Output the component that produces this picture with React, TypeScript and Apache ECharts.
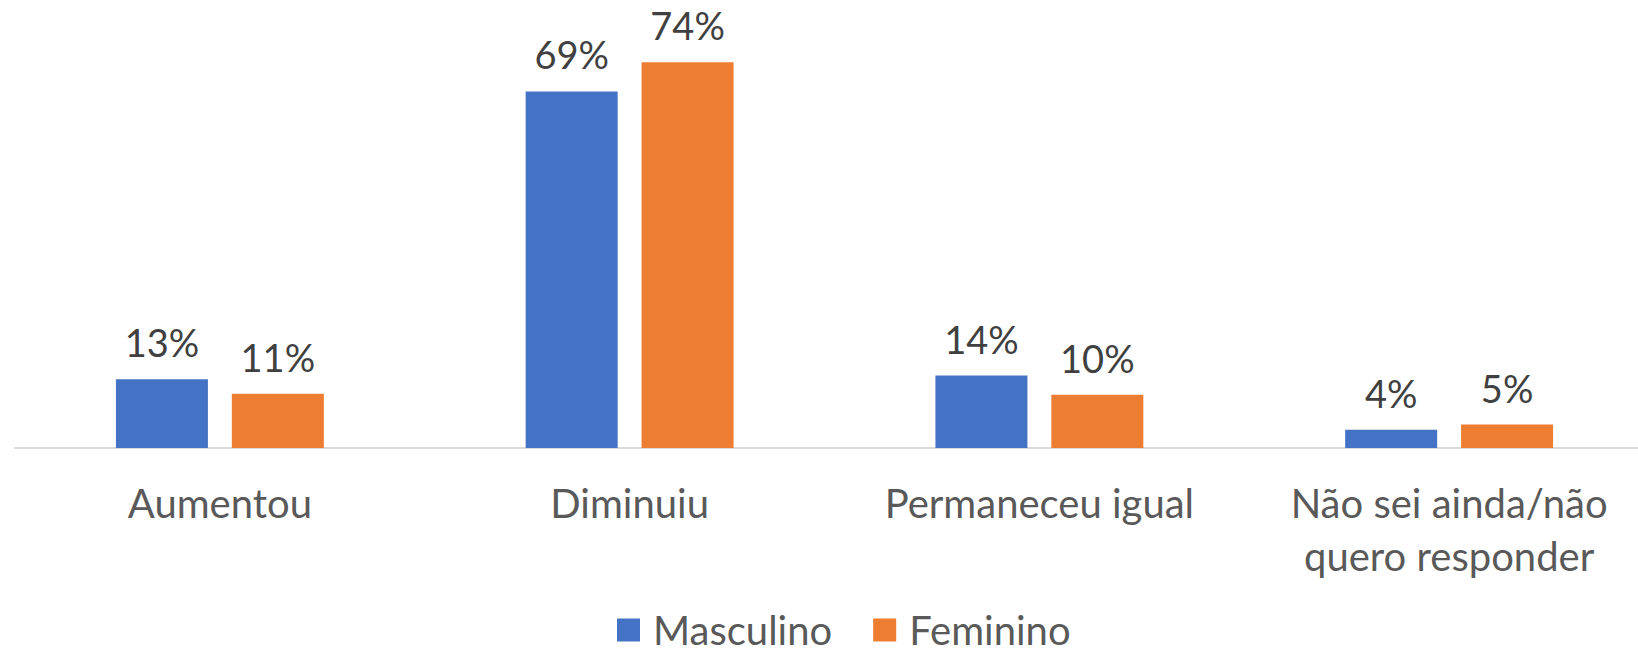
import React, { useEffect, useRef } from "react";
import * as echarts from "echarts";

const categories = ["Aumentou", "Diminuiu", "Permaneceu igual", "Não sei ainda/não\nquero responder"];
const seriesNames = ["Masculino", "Feminino"];
// bar heights (percent)
const masculino = [13.2, 68.4, 13.9, 3.5];
const feminino = [10.4, 74, 10.2, 4.5];
// data labels as printed on the picture
const masculinoLabels = ["13%", "69%", "14%", "4%"];
const femininoLabels = ["11%", "74%", "10%", "5%"];

export default function App() {
  const ref = useRef<HTMLDivElement>(null);
  useEffect(() => {
    if (!ref.current) return;
    const chart = echarts.init(ref.current, undefined, { renderer: "svg" });
    const font = "Lato";
    const labelStyle = (labels: string[]) => ({
      show: true,
      position: "top" as const,
      distance: 14,
      formatter: (p: any) => labels[p.dataIndex],
      fontFamily: font,
      fontSize: 38,
      lineHeight: 46,
      color: "#404040",
    });
    chart.setOption({
      animation: false,
      backgroundColor: "#ffffff",
      grid: { left: 15, right: 6, top: 31, bottom: 200, containLabel: false },
      legend: {
        left: 617,
        top: 610,
        padding: 0,
        itemWidth: 23,
        itemHeight: 23,
        itemGap: 41,
        icon: "rect",
        textStyle: { fontFamily: font, fontSize: 40, lineHeight: 23, color: "#595959", padding: [0, 0, 0, 8] },
        data: seriesNames,
      },
      xAxis: {
        type: "category",
        data: categories,
        axisLine: { show: true, lineStyle: { color: "#D9D9D9", width: 2 } },
        axisTick: { show: false },
        axisLabel: {
          interval: 0,
          margin: 28,
          fontFamily: font,
          fontSize: 40,
          lineHeight: 53,
          color: "#595959",
        },
      },
      yAxis: {
        type: "value",
        min: 0,
        max: 80,
        show: false,
        splitLine: { show: false },
      },
      series: [
        {
          name: seriesNames[0],
          type: "bar",
          data: masculino,
          barWidth: 92,
          barGap: "26%",
          itemStyle: { color: "#4472C4" },
          label: labelStyle(masculinoLabels),
        },
        {
          name: seriesNames[1],
          type: "bar",
          data: feminino,
          barWidth: 92,
          barGap: "26%",
          itemStyle: { color: "#ED7D31" },
          label: labelStyle(femininoLabels),
        },
      ],
    });
    return () => chart.dispose();
  }, []);
  return (
    <div style={{ position: "fixed", left: 0, top: 0, width: 1638, height: 648, overflow: "hidden", background: "#fff" }}>
      <div ref={ref} style={{ position: "absolute", left: 0, top: 0, width: 1660, height: 648 }} />
    </div>
  );
}
